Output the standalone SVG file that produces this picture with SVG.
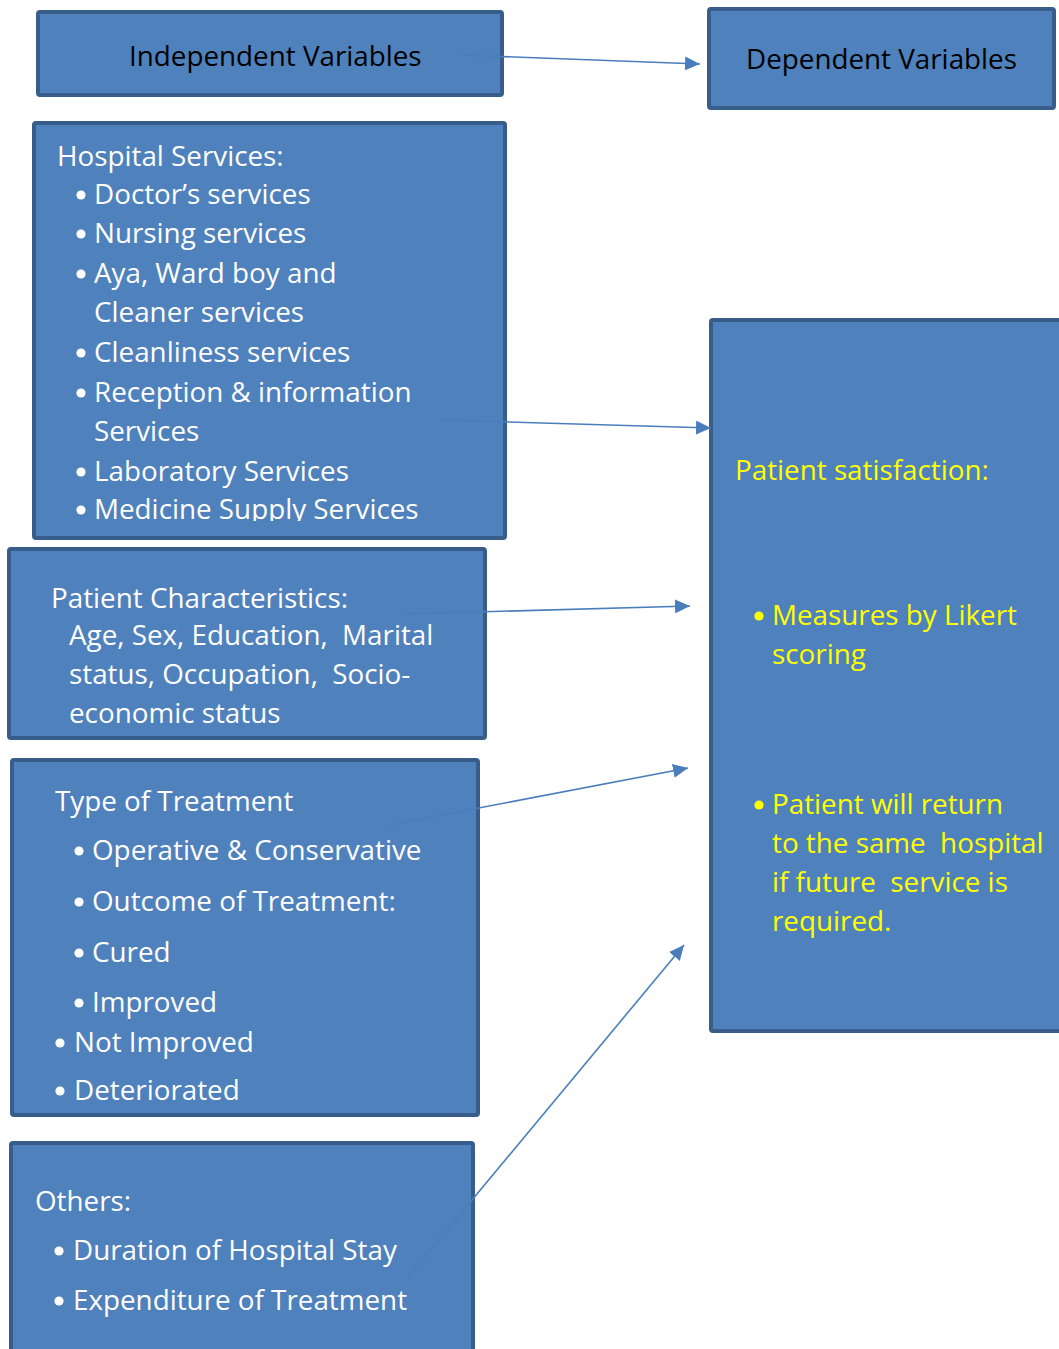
<svg xmlns="http://www.w3.org/2000/svg" width="1059" height="1349" viewBox="0 0 1059 1349">
<style>
.box{fill:#4F81BD;stroke:#385D8A;stroke-width:4}
.t{font-family:"Open Sans","Noto Sans","Liberation Sans",sans-serif;font-size:27.8px;fill:#FFFFFF}
.k{fill:#000000}
.y{fill:#FFFF00}
.b{fill:#FFFFFF}
.by{fill:#FFFF00}
.c{fill:none;stroke:#4A7EBB;stroke-width:1.6}
</style>
<defs>
<marker id="arr" markerUnits="userSpaceOnUse" markerWidth="16" markerHeight="14" refX="15" refY="7" orient="auto">
<path d="M0,0 L15,7 L0,14 Z" fill="#4A7EBB"/>
</marker>
<clipPath id="hclip"><rect x="30" y="120" width="480" height="401"/></clipPath>
</defs>

<g id="independent">
<rect class="box" x="38" y="12" width="464" height="83" rx="2"/>
<text class="t k" x="129" y="66">Independent Variables</text>
</g>

<g id="dependent">
<rect class="box" x="709" y="9" width="345" height="99" rx="2"/>
<text class="t k" x="746" y="69">Dependent Variables</text>
</g>

<g id="hospital-services">
<rect class="box" x="34" y="123" width="471" height="415" rx="2"/>
<g clip-path="url(#hclip)">
<text class="t" x="57" y="166">Hospital Services:</text>
<circle class="b" cx="81" cy="195" r="4.6"/><text class="t" x="94" y="204">Doctor’s services</text>
<circle class="b" cx="81" cy="234" r="4.6"/><text class="t" x="94" y="243">Nursing services</text>
<circle class="b" cx="81" cy="274" r="4.6"/><text class="t" x="94" y="283">Aya, Ward boy and</text>
<text class="t" x="94" y="322">Cleaner services</text>
<circle class="b" cx="81" cy="353" r="4.6"/><text class="t" x="94" y="362">Cleanliness services</text>
<circle class="b" cx="81" cy="393" r="4.6"/><text class="t" x="94" y="402">Reception &amp; information</text>
<text class="t" x="94" y="441">Services</text>
<circle class="b" cx="81" cy="472" r="4.6"/><text class="t" x="94" y="481">Laboratory Services</text>
<circle class="b" cx="81" cy="510" r="4.6"/><text class="t" x="94" y="519">Medicine Supply Services</text>
</g>
</g>

<g id="patient-characteristics">
<rect class="box" x="9" y="549" width="476" height="189" rx="2"/>
<text class="t" x="51" y="608">Patient Characteristics:</text>
<text class="t" x="69" y="645" xml:space="preserve">Age, Sex, Education,  Marital</text>
<text class="t" x="69" y="684" xml:space="preserve">status, Occupation,  Socio-</text>
<text class="t" x="69" y="723">economic status</text>
</g>

<g id="treatment">
<rect class="box" x="12" y="760" width="466" height="355" rx="2"/>
<text class="t" x="55" y="811">Type of Treatment</text>
<circle class="b" cx="79" cy="851" r="4.6"/><text class="t" x="92" y="860">Operative &amp; Conservative</text>
<circle class="b" cx="79" cy="902" r="4.6"/><text class="t" x="92" y="911">Outcome of Treatment:</text>
<circle class="b" cx="79" cy="953" r="4.6"/><text class="t" x="92" y="962">Cured</text>
<circle class="b" cx="79" cy="1003" r="4.6"/><text class="t" x="92" y="1012">Improved</text>
<circle class="b" cx="60" cy="1043" r="4.6"/><text class="t" x="74" y="1052">Not Improved</text>
<circle class="b" cx="60" cy="1091" r="4.6"/><text class="t" x="74" y="1100">Deteriorated</text>
</g>

<g id="others">
<rect class="box" x="11" y="1143" width="462" height="230" rx="2"/>
<text class="t" x="35" y="1211">Others:</text>
<circle class="b" cx="59" cy="1251" r="4.6"/><text class="t" x="73" y="1260">Duration of Hospital Stay</text>
<circle class="b" cx="59" cy="1301" r="4.6"/><text class="t" x="73" y="1310">Expenditure of Treatment</text>
</g>

<g id="patient-satisfaction">
<rect class="box" x="711" y="320" width="360" height="711" rx="2"/>
<text class="t y" x="735" y="480">Patient satisfaction:</text>
<circle class="by" cx="759" cy="616" r="4.6"/><text class="t y" x="772" y="625">Measures by Likert</text>
<text class="t y" x="772" y="664">scoring</text>
<circle class="by" cx="759" cy="805" r="4.6"/><text class="t y" x="772" y="814">Patient will return</text>
<text class="t y" x="772" y="853" xml:space="preserve">to the same  hospital</text>
<text class="t y" x="772" y="892" xml:space="preserve">if future  service is</text>
<text class="t y" x="772" y="931">required.</text>
</g>

<g id="connectors">
<path class="c" d="M460,55 L700,64" marker-end="url(#arr)"/>
<path class="c" d="M440,420 L711,428" marker-end="url(#arr)"/>
<path class="c" d="M405,614 L690,606" marker-end="url(#arr)"/>
<path class="c" d="M390,825 L688,768" marker-end="url(#arr)"/>
<path class="c" d="M408,1277 L684,945" marker-end="url(#arr)"/>
</g>
</svg>
